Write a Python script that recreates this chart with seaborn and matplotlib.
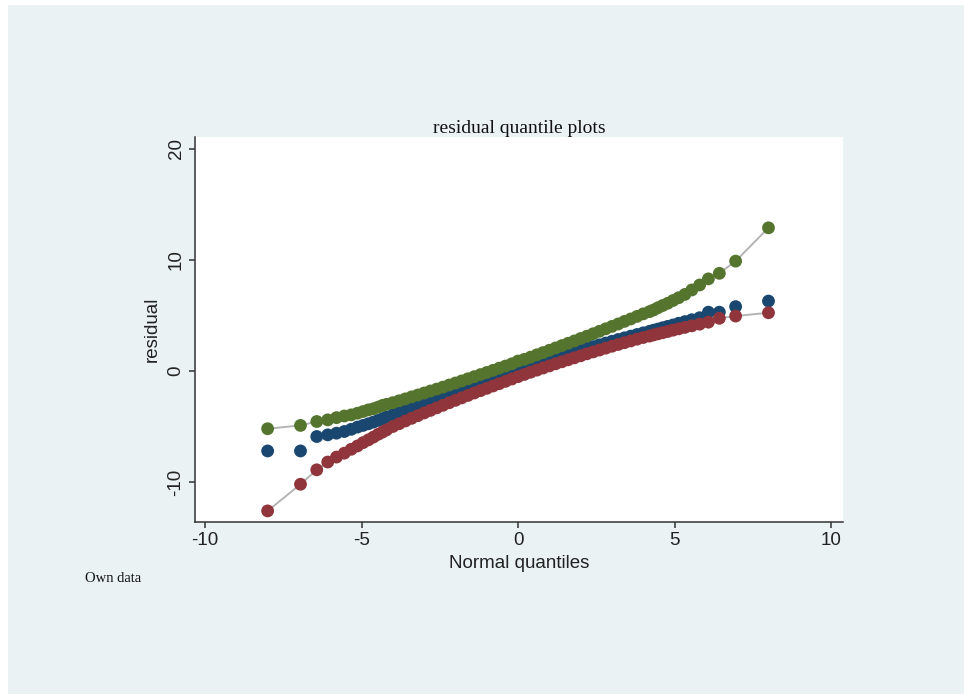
import matplotlib

matplotlib.use("Agg")

import matplotlib.pyplot as plt
import pandas as pd
import seaborn as sns
from matplotlib.patches import Rectangle

# normal quantile positions shared by the three residual series
x_q = [
    -8.0, -6.95, -6.43, -6.08, -5.8, -5.55, -5.33, -5.13, -4.95, -4.78, -4.62, -4.47, -4.33, -4.2,
    -4.0, -3.8, -3.6, -3.4, -3.2, -3.0, -2.8, -2.6, -2.4, -2.2, -2.0,
    -1.8, -1.6, -1.4, -1.2, -1.0, -0.8, -0.6, -0.4, -0.2, 0.0,
    0.2, 0.4, 0.6, 0.8, 1.0, 1.2, 1.4, 1.6, 1.8, 2.0,
    2.2, 2.4, 2.6, 2.8, 3.0, 3.2, 3.4, 3.6, 3.8, 4.0,
    4.2, 4.33, 4.47, 4.62, 4.78, 4.95, 5.13, 5.33, 5.55, 5.8, 6.08, 6.43, 6.95, 8.0,
]

res_navy = [
    -7.2, -7.2, -5.9, -5.75, -5.6, -5.45, -5.25, -5.05, -4.9, -4.75, -4.6, -4.45, -4.3, -4.15,
    -3.95, -3.75, -3.55, -3.34, -3.14, -2.94, -2.74, -2.53, -2.33, -2.13, -1.93,
    -1.72, -1.52, -1.32, -1.12, -0.91, -0.71, -0.51, -0.31, -0.10, 0.10,
    0.29, 0.48, 0.66, 0.84, 1.02, 1.2, 1.37, 1.54, 1.71, 1.88,
    2.04, 2.2, 2.36, 2.52, 2.68, 2.84, 2.99, 3.14, 3.29, 3.44,
    3.58, 3.68, 3.78, 3.9, 4.02, 4.15, 4.3, 4.45, 4.62, 4.8, 5.3, 5.3, 5.8, 6.3,
]

res_maroon = [
    -12.6, -10.2, -8.9, -8.2, -7.75, -7.4, -7.05, -6.75, -6.45, -6.2, -5.95, -5.7, -5.5, -5.3,
    -5.0, -4.75, -4.5, -4.26, -4.02, -3.78, -3.55, -3.32, -3.09, -2.86, -2.64,
    -2.42, -2.2, -1.98, -1.77, -1.56, -1.35, -1.14, -0.93, -0.72, -0.51,
    -0.31, -0.11, 0.08, 0.27, 0.46, 0.65, 0.83, 1.01, 1.19, 1.37,
    1.55, 1.72, 1.89, 2.06, 2.23, 2.39, 2.55, 2.71, 2.87, 3.02,
    3.15, 3.25, 3.35, 3.45, 3.56, 3.68, 3.8, 3.93, 4.07, 4.22, 4.4, 4.75, 4.95, 5.25,
]

res_green = [
    -5.2, -4.9, -4.55, -4.4, -4.2, -4.05, -3.95, -3.8, -3.65, -3.5, -3.4, -3.25, -3.1, -3.0,
    -2.85, -2.68, -2.51, -2.33, -2.16, -1.98, -1.8, -1.63, -1.45, -1.26, -1.08,
    -0.89, -0.7, -0.51, -0.32, -0.13, 0.06, 0.26, 0.45, 0.65, 0.9,
    1.05, 1.25, 1.46, 1.66, 1.87, 2.08, 2.29, 2.5, 2.71, 2.93,
    3.14, 3.36, 3.58, 3.8, 4.02, 4.24, 4.47, 4.69, 4.92, 5.15,
    5.35, 5.5, 5.7, 5.9, 6.1, 6.35, 6.6, 6.9, 7.3, 7.75, 8.3, 8.8, 9.9, 12.9,
]

x_ticks = [-10, -5, 0, 5, 10]
y_ticks = [-10, 0, 10, 20]

# Stata s2color palette
NAVY, MAROON, GREEN = "#1a476f", "#90353b", "#55752f"
BG = "#eaf2f3"

frame = pd.concat(
    [
        pd.DataFrame({"q": x_q, "residual": res_navy, "series": "navy"}),
        pd.DataFrame({"q": x_q, "residual": res_maroon, "series": "maroon"}),
        pd.DataFrame({"q": x_q, "residual": res_green, "series": "green"}),
    ],
    ignore_index=True,
)

sns.set_style("ticks")
plt.rcParams["font.family"] = ["Liberation Sans", "DejaVu Sans"]
plt.rcParams["axes.unicode_minus"] = False

W, H = 964, 694
fig = plt.figure(figsize=(W / 100, H / 100), dpi=100, facecolor="white")
# graph region: light blue-gray panel behind the plot region
fig.patches.append(
    Rectangle((8 / W, 0), 1 - 8 / W, 1 - 5 / H, transform=fig.transFigure,
              facecolor=BG, edgecolor="none", zorder=-10)
)
ax = fig.add_axes([195 / W, 1 - 522 / H, 648 / W, 385 / H])
ax.set_facecolor("white")

# thin gray connecting lines under the markers
for vals in (res_green, res_maroon):
    sns.lineplot(x=x_q, y=vals, sort=False, estimator=None, color="#b4b4b4",
                 linewidth=1.4, ax=ax, zorder=1)

sns.scatterplot(
    data=frame, x="q", y="residual", hue="series",
    palette={"navy": NAVY, "maroon": MAROON, "green": GREEN},
    s=85, linewidth=0, alpha=1, legend=False, ax=ax, zorder=2,
)

ax.set_xlim(-10.32, 10.38)
ax.set_ylim(-13.6, 21.08)
ax.set_xticks(x_ticks)
ax.set_yticks(y_ticks)
ax.set_xticklabels([str(t) for t in x_ticks], fontsize=13.5)
ax.set_yticklabels([str(t) for t in y_ticks], fontsize=13.5, rotation=90, va="center")
ax.tick_params(axis="both", direction="out", length=4.5, width=1.1, color="#333333",
               labelcolor="#222222")
ax.tick_params(axis="x", pad=3)
ax.tick_params(axis="y", pad=3)

for side in ("top", "right"):
    ax.spines[side].set_visible(False)
for side in ("left", "bottom"):
    ax.spines[side].set_color("#333333")
    ax.spines[side].set_linewidth(1.1)

ax.set_xlabel("Normal quantiles", fontsize=13.5, color="#222222", labelpad=4)
ax.set_ylabel("residual", fontsize=13.5, color="#222222", labelpad=5)
ax.set_title("residual quantile plots", family=["Liberation Serif", "DejaVu Serif"],
             fontsize=14, color="#111111", pad=3)

fig.text(85 / W, 1 - 578 / H, "Own data", family=["Liberation Serif", "DejaVu Serif"],
         fontsize=10.5, color="#111111", ha="left", va="center")

fig.savefig("out.png", dpi=100, facecolor="white")
plt.close(fig)
